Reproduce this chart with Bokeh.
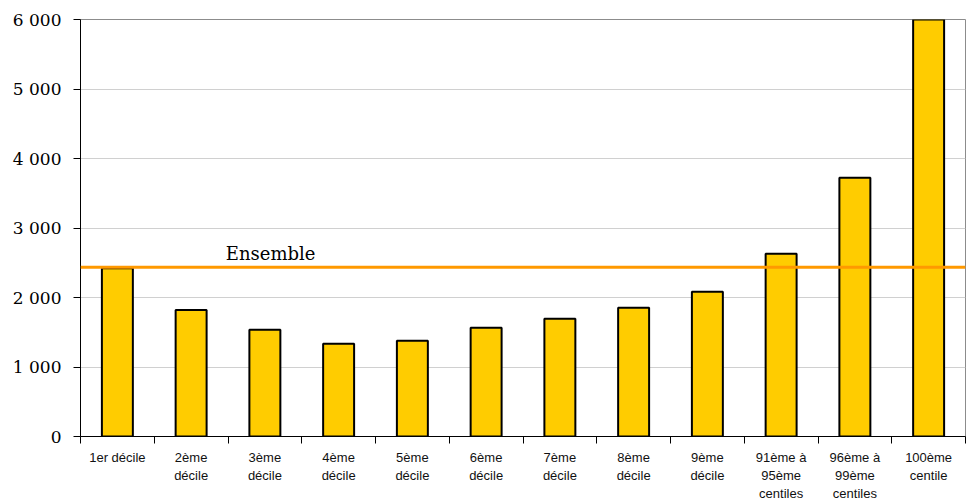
from bokeh.plotting import figure
from bokeh.models import Range1d, FixedTicker, Span, Label, ColumnDataSource
from bokeh.embed import file_html
from bokeh.resources import INLINE

categories = ["1er décile", "2ème\ndécile", "3ème\ndécile", "4ème\ndécile", "5ème\ndécile",
              "6ème\ndécile", "7ème\ndécile", "8ème\ndécile", "9ème\ndécile",
              "91ème à\n95ème\ncentiles", "96ème à\n99ème\ncentiles", "100ème\ncentile"]
values = [2420, 1820, 1535, 1335, 1378, 1565, 1694, 1852, 2081, 2630, 3722, 6000]
ensemble = 2435
ensemble_label = "Ensemble"
y_ticks = [0, 1000, 2000, 3000, 4000, 5000, 6000]
y_tick_labels = ["0", "1 000", "2 000", "3 000", "4 000", "5 000", "6 000"]

n = len(categories)
centers = [i + 0.5 for i in range(n)]
source = ColumnDataSource(dict(x=centers, top=values))

p = figure(width=966, height=503, output_backend="svg", toolbar_location=None,
           x_range=Range1d(0, n), y_range=Range1d(0, 6000),
           min_border_left=80, min_border_right=1, min_border_top=19, min_border_bottom=60)
p.background_fill_color = "white"
p.border_fill_color = "white"
p.outline_line_color = "#8c8c8c"
p.outline_line_width = 1

p.vbar(x="x", top="top", width=0.42, bottom=0, source=source,
       fill_color="#FFCC00", line_color="black", line_width=2)

p.add_layout(Span(location=ensemble, dimension="width", line_color="#FF9900", line_width=3))
p.add_layout(Label(x=1.97, y=ensemble, y_offset=3, text=ensemble_label,
                   text_font="DejaVu Serif", text_font_size="18px", text_color="black",
                   text_baseline="bottom"))

# x axis
p.xaxis.ticker = FixedTicker(ticks=centers, minor_ticks=list(range(n + 1)))
p.xaxis.major_label_overrides = {c: lab for c, lab in zip(centers, categories)}
p.xaxis.major_tick_out = 0
p.xaxis.major_tick_in = 0
p.xaxis.minor_tick_out = 7
p.xaxis.minor_tick_in = 0
p.xaxis.minor_tick_line_color = "black"
p.xaxis.axis_line_color = "black"
p.xaxis.axis_line_width = 1
p.xaxis.major_label_standoff = 6
p.xaxis.major_label_text_font = "Liberation Sans"
p.xaxis.major_label_text_font_size = "13px"
p.xaxis.major_label_text_color = "#111111"

# y axis
p.yaxis.ticker = FixedTicker(ticks=y_ticks, minor_ticks=[])
p.yaxis.major_label_overrides = {t: lab for t, lab in zip(y_ticks, y_tick_labels)}
p.yaxis.major_tick_out = 7
p.yaxis.major_tick_in = 0
p.yaxis.major_tick_line_color = "black"
p.yaxis.axis_line_color = "black"
p.yaxis.major_label_standoff = 12
p.yaxis.major_label_text_font = "DejaVu Serif"
p.yaxis.major_label_text_font_size = "17px"
p.yaxis.major_label_text_color = "black"

p.xgrid.grid_line_color = None
p.ygrid.grid_line_color = "#d0d0d0"
p.ygrid.grid_line_width = 1

open("out.html", "w").write(file_html(p, INLINE))
